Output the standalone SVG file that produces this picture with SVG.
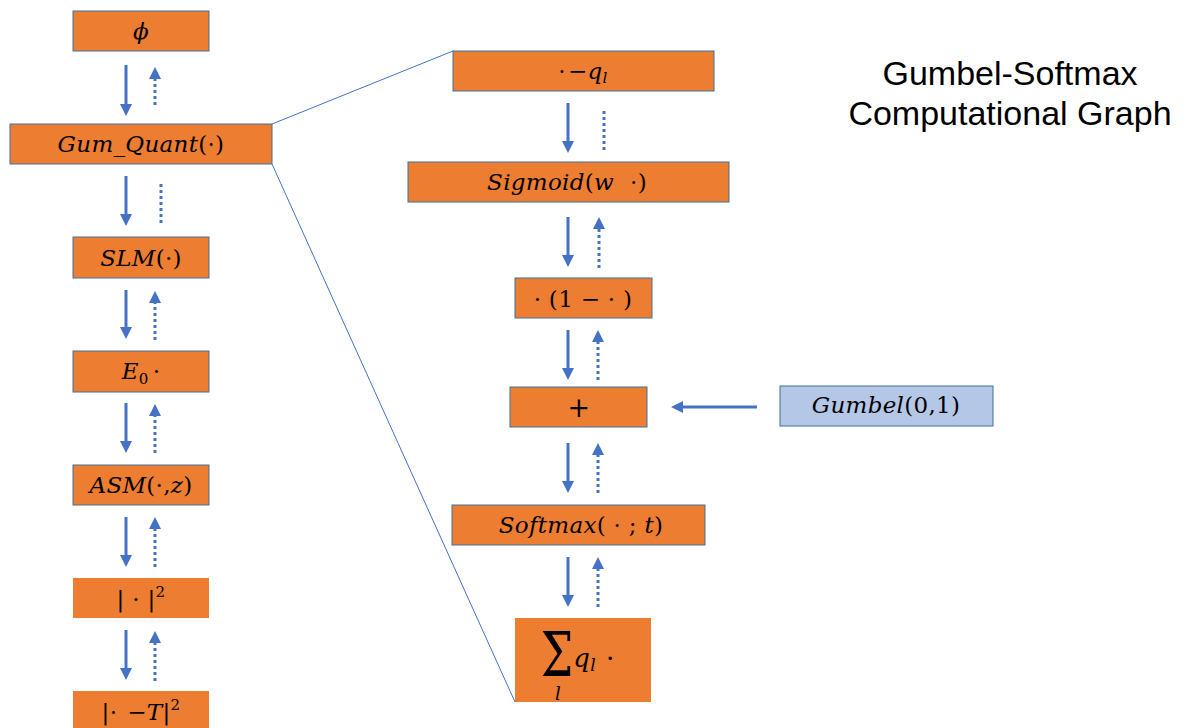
<svg xmlns="http://www.w3.org/2000/svg" width="1186" height="728" viewBox="0 0 1186 728">
  <defs>
    <marker id="head" markerUnits="userSpaceOnUse" markerWidth="12" markerHeight="12" refX="1" refY="6" orient="auto">
      <path d="M0,0 L12,6 L0,12 z" fill="#4472c4"/>
    </marker>
    <style>
      .op { fill: #ed7d31; stroke: #41719c; stroke-width: 1; }
      .op-plain { fill: #ed7d31; stroke: none; }
      .src { fill: #b4c7e7; stroke: #41719c; stroke-width: 1; }
      .m { font-family: "DejaVu Serif", "Liberation Serif", serif; font-size: 23px; fill: #000; text-anchor: middle; letter-spacing: 0.3px; }
      .i { font-style: italic; }
      .sub { font-size: 15px; }
      .fwd { stroke: #4472c4; stroke-width: 3; fill: none; }
      .bwd { stroke: #4472c4; stroke-width: 3; fill: none; stroke-dasharray: 3 3; }
      .zoom { stroke: #4472c4; stroke-width: 1; fill: none; }
      .title { font-family: "Liberation Sans", "Open Sans", sans-serif; font-size: 34px; fill: #000; text-anchor: middle; }
    </style>
  </defs>

  <!-- Title -->
  <g id="title">
    <text class="title" x="1010" y="85">Gumbel-Softmax</text>
    <text class="title" x="1010" y="125">Computational Graph</text>
  </g>

  <!-- Left column: forward chain -->
  <g id="phi">
    <rect class="op" x="73" y="11" width="136" height="40"/>
    <text class="m i" x="141" y="39">ϕ</text>
  </g>
  <g id="gum-quant">
    <rect class="op" x="10" y="124" width="262" height="40"/>
    <text class="m" x="141" y="152"><tspan class="i">Gum_Quant</tspan>(·)</text>
  </g>
  <g id="slm">
    <rect class="op" x="73" y="237" width="136" height="41"/>
    <text class="m" x="141" y="266"><tspan class="i">SLM</tspan>(·)</text>
  </g>
  <g id="e0">
    <rect class="op" x="73" y="351" width="136" height="41"/>
    <text class="m" x="141" y="379"><tspan class="i">E</tspan><tspan class="sub" dy="5">0</tspan><tspan dy="-5" dx="4">·</tspan></text>
  </g>
  <g id="asm">
    <rect class="op" x="73" y="465" width="136" height="40"/>
    <text class="m" x="141" y="493"><tspan class="i">ASM</tspan>(·,<tspan class="i">z</tspan>)</text>
  </g>
  <g id="abs-sq">
    <rect class="op-plain" x="73" y="578" width="136" height="40"/>
    <text class="m" x="141" y="607">| · |<tspan class="sub" dy="-10">2</tspan></text>
  </g>
  <g id="abs-diff-sq">
    <rect class="op-plain" x="73" y="691" width="136" height="40"/>
    <text class="m" x="141" y="720">|·<tspan dx="10">−</tspan><tspan class="i">T</tspan>|<tspan class="sub" dy="-10">2</tspan></text>
  </g>

  <!-- Right column: expansion of Gum_Quant -->
  <g id="minus-q">
    <rect class="op" x="453" y="51" width="261" height="40"/>
    <text class="m" x="583" y="79">·<tspan dx="2">−</tspan><tspan class="i">q</tspan><tspan class="sub i" dy="4">l</tspan></text>
  </g>
  <g id="sigmoid">
    <rect class="op" x="408" y="162" width="321" height="40"/>
    <text class="m" x="567" y="190"><tspan class="i">Sigmoid</tspan>(<tspan class="i">w</tspan><tspan dx="16">·)</tspan></text>
  </g>
  <g id="one-minus">
    <rect class="op" x="515" y="278" width="137" height="40"/>
    <text class="m" x="583" y="307">· (1 − · )</text>
  </g>
  <g id="plus">
    <rect class="op" x="510" y="387" width="137" height="40"/>
    <text class="m" style="font-size:27px" x="579" y="417">+</text>
  </g>
  <g id="softmax">
    <rect class="op" x="452" y="505" width="253" height="40"/>
    <text class="m" x="581" y="533"><tspan class="i">Softmax</tspan>( · ; <tspan class="i">t</tspan>)</text>
  </g>
  <g id="weighted-sum">
    <rect class="op-plain" x="515" y="618" width="136" height="84"/>
    <text class="m" style="font-size:46px; letter-spacing:0" transform="translate(557,676) scale(1,1.35)" x="0" y="0">Σ</text>
    <text class="m i" style="font-size:18px" x="558" y="700">l</text>
    <text class="m" style="font-size:26px" x="594" y="667"><tspan class="i">q</tspan><tspan class="sub i" style="font-size:17px" dy="4">l</tspan><tspan dy="-4" dx="10">·</tspan></text>
  </g>
  <g id="gumbel">
    <rect class="src" x="780" y="386" width="213" height="40"/>
    <text class="m" x="886" y="413"><tspan class="i">Gumbel</tspan>(0,1)</text>
  </g>

  <!-- Connectors: solid = forward pass, dotted = backward pass, thin = zoom outline -->
  <g id="connectors">
    <line class="zoom" x1="272" y1="124" x2="453" y2="51"/>
    <line class="zoom" x1="272" y1="164" x2="515" y2="702"/>

    <!-- left column -->
    <line class="fwd" x1="126" y1="65" x2="126" y2="105" marker-end="url(#head)"/>
    <line class="bwd" x1="155" y1="105" x2="155" y2="78" marker-end="url(#head)"/>

    <line class="fwd" x1="126" y1="176" x2="126" y2="215" marker-end="url(#head)"/>
    <line class="bwd" x1="161" y1="184" x2="161" y2="226"/>

    <line class="fwd" x1="126" y1="290" x2="126" y2="328" marker-end="url(#head)"/>
    <line class="bwd" x1="155" y1="340" x2="155" y2="302" marker-end="url(#head)"/>

    <line class="fwd" x1="126" y1="403" x2="126" y2="442" marker-end="url(#head)"/>
    <line class="bwd" x1="155" y1="453" x2="155" y2="415" marker-end="url(#head)"/>

    <line class="fwd" x1="126" y1="517" x2="126" y2="556" marker-end="url(#head)"/>
    <line class="bwd" x1="155" y1="567" x2="155" y2="528" marker-end="url(#head)"/>

    <line class="fwd" x1="126" y1="630" x2="126" y2="669" marker-end="url(#head)"/>
    <line class="bwd" x1="155" y1="681" x2="155" y2="642" marker-end="url(#head)"/>

    <!-- right column -->
    <line class="fwd" x1="568" y1="103" x2="568" y2="142" marker-end="url(#head)"/>
    <line class="bwd" x1="604" y1="111" x2="604" y2="153"/>

    <line class="fwd" x1="568" y1="217" x2="568" y2="256" marker-end="url(#head)"/>
    <line class="bwd" x1="599" y1="268" x2="599" y2="228" marker-end="url(#head)"/>

    <line class="fwd" x1="568" y1="330" x2="568" y2="369" marker-end="url(#head)"/>
    <line class="bwd" x1="598" y1="380" x2="598" y2="341" marker-end="url(#head)"/>

    <line class="fwd" x1="568" y1="443" x2="568" y2="482" marker-end="url(#head)"/>
    <line class="bwd" x1="598" y1="493" x2="598" y2="454" marker-end="url(#head)"/>

    <line class="fwd" x1="568" y1="557" x2="568" y2="596" marker-end="url(#head)"/>
    <line class="bwd" x1="598" y1="607" x2="598" y2="568" marker-end="url(#head)"/>

    <line class="fwd" x1="757" y1="407" x2="682" y2="407" marker-end="url(#head)"/>
  </g>
</svg>
